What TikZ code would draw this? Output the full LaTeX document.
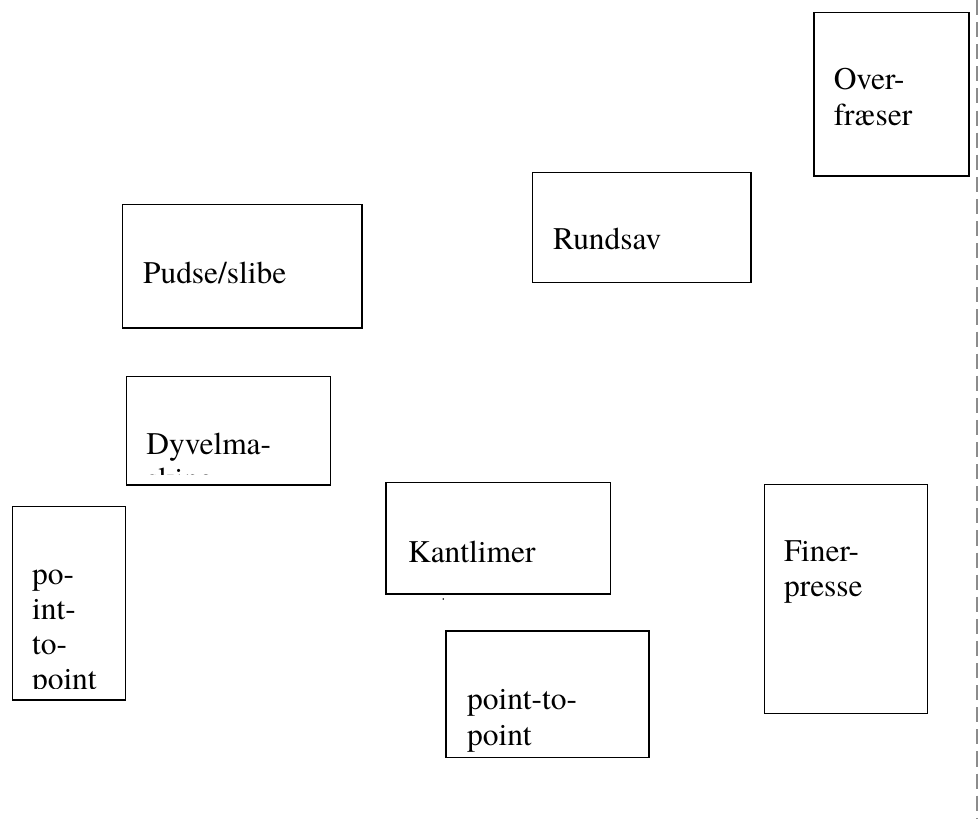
\documentclass[tikz,border=0pt]{standalone}
\usepackage{fontspec}
\setmainfont{texgyretermes}[Extension=.otf, UprightFont=*-regular, BoldFont=*-bold, ItalicFont=*-italic, BoldItalicFont=*-bolditalic]
\usepackage{tikz}
\usetikzlibrary{positioning,fit}
\tikzstyle{machine} = [draw=black, line width=0.6pt, inner sep=0pt, fill=none]
\tikzstyle{mtext} = [anchor=base west, inner sep=0pt, text width=110pt, align=left, text=black, font=\rmfamily\fontsize{12.1}{13.5}\selectfont]
\tikzstyle{margin} = [draw=black!45, line width=0.45pt, dash pattern=on 5.8pt off 2.7pt]

\begin{document}
\begin{tikzpicture}[x=0.3846pt, y=-0.3846pt]
\useasboundingbox (0,0) rectangle (978,818);

% machines =============================
\node[machine, fit={(814,12.7) (969,176)}] (over) {};
\node[machine, fit={(532.3,172.3) (751,282.3)}] (rund) {};
\node[machine, fit={(122.3,204.3) (362,328)}] (pudse) {};
\node[machine, fit={(126.7,376.7) (330.7,485)}] (dyvel) {};
\node[machine, fit={(12.3,506.7) (125.7,700)}] (pint) {};
\node[machine, fit={(386,482.3) (610.7,594)}] (kant) {};
\node[machine, fit={(446,630.7) (649,757.3)}] (ptp) {};
\node[machine, fit={(764.3,484.3) (927.7,713.3)}] (finer) {};

% texts
\node[mtext] (overtxt) at ([shift={(20,78)}]over.north west) {Over-\\fræser};
\node[mtext] (rundtxt) at ([shift={(21,78)}]rund.north west) {Rundsav};
\node[mtext] (pudsetxt) at ([shift={(21,80)}]pudse.north west) {Pudse/slibe};
\node[mtext] (kanttxt) at ([shift={(22.3,81)}]kant.north west) {Kantlimer};
\node[mtext] (ptptxt) at ([shift={(21.3,80)}]ptp.north west) {point-to-\\point};
\node[mtext] (finertxt) at ([shift={(20,78)}]finer.north west) {Finer-\\presse};

% cut off texts
\begin{scope}
\clip (dyvel.north west) rectangle ([yshift=4.2pt]dyvel.south east);
\node[mtext] (dyveltxt) at ([shift={(20,78.3)}]dyvel.north west) {Dyvelma-\\skine};
\end{scope}
\begin{scope}
\clip (pint.north west) rectangle ([yshift=4.6pt]pint.south east);
\node[mtext] (pinttxt) at ([shift={(20,78.3)}]pint.north west) {po-\\int-\\to-\\point};
\end{scope}

% dot and page margin
\coordinate (kantdot) at (443.3,599);
\fill (kantdot) circle (0.35pt);
\coordinate (margintop) at (977,0);
\coordinate (marginbot) at (977,818);
\path[margin] (margintop) -- (marginbot);

\end{tikzpicture}
\end{document}
